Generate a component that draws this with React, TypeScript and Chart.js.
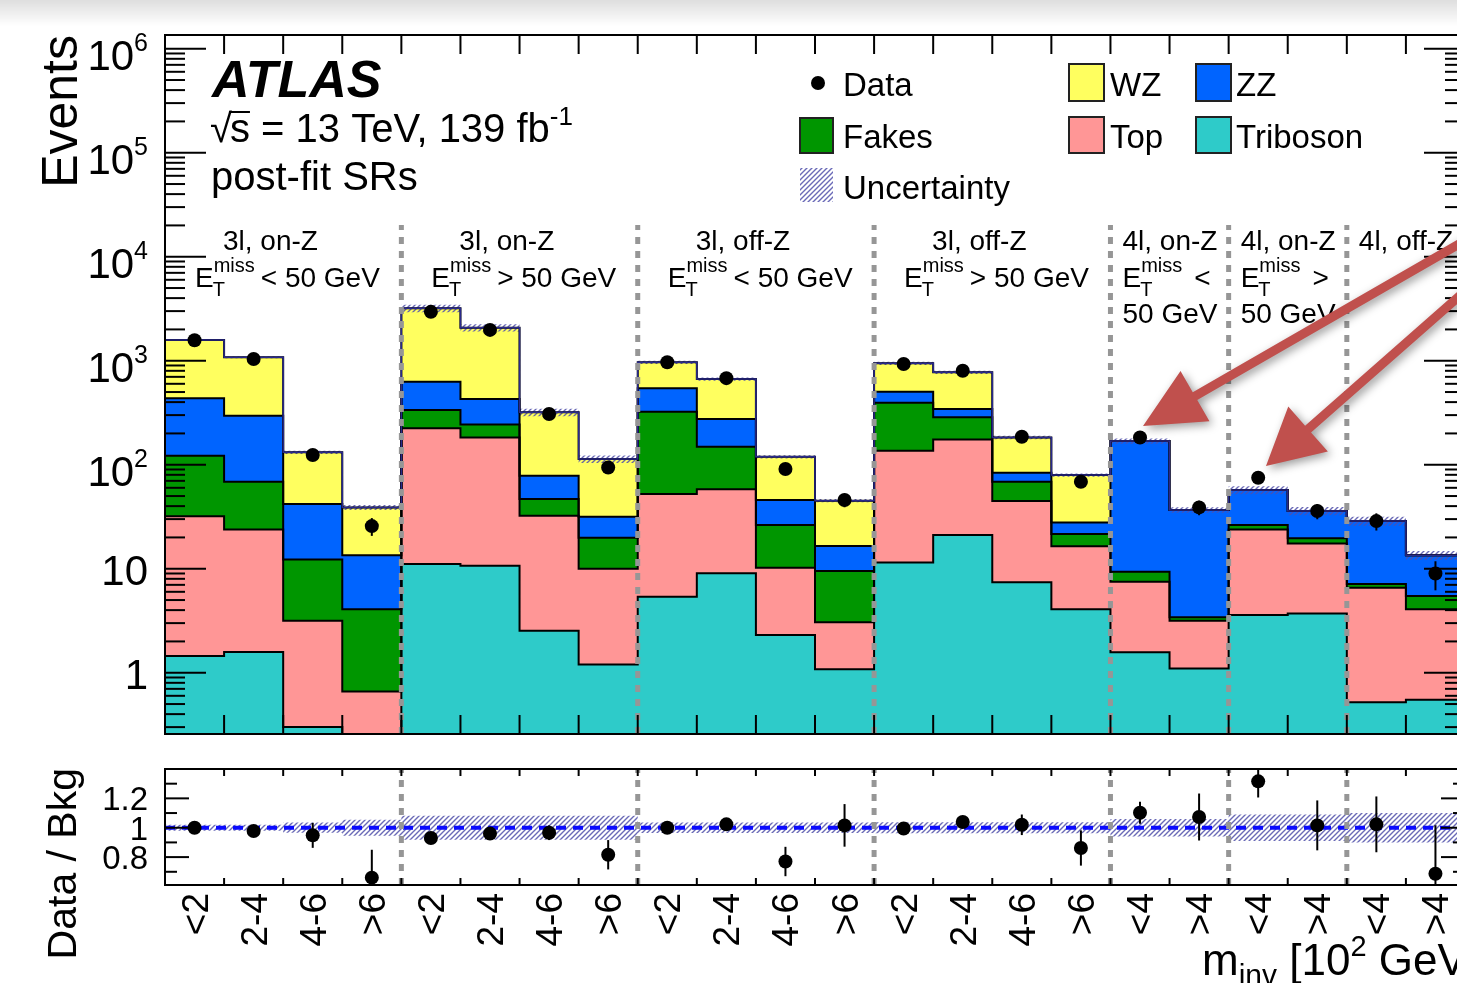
import React, { useEffect, useRef } from 'react';
import { Chart, registerables } from 'chart.js';

Chart.register(...registerables);

// ---------------- data ----------------
const binLabels = ['<2', '2-4', '4-6', '>6', '<2', '2-4', '4-6', '>6', '<2', '2-4', '4-6', '>6', '<2', '2-4', '4-6', '>6', '<4', '>4', '<4', '>4', '<4', '>4'];

const triboson = [1.45, 1.58, 0.30, 0.2, 11.1, 10.7, 2.53, 1.2, 5.38, 9.03, 2.3, 1.08, 11.5, 21.1, 7.4, 4.07, 1.57, 1.1, 3.59, 3.72, 0.52, 0.55];
const topq = [30.5, 22.3, 2.86, 0.46, 213, 172, 29.8, 8.8, 46.9, 49, 7.9, 1.97, 124.5, 153.9, 37.4, 12.4, 5.93, 2.06, 20.3, 13.8, 6.04, 3.52];
const fakes = [90, 44.8, 9.1, 3.41, 112, 61, 14.5, 9.9, 270.7, 91, 16.1, 6.45, 258, 111, 23.9, 5.1, 1.85, 0.25, 2.4, 2.1, 0.57, 1.4];
const zz = [313, 227, 29.6, 9.4, 292, 184, 31.6, 11.7, 220, 126, 19.5, 7.0, 110, 57, 15, 6.3, 159.6, 33.3, 30.8, 16.3, 21.6, 8.0];
const wz = [1145, 782, 89.7, 25.4, 2562, 1648, 240.6, 81.9, 423, 392, 73.6, 28.6, 440, 430, 99.3, 51.7, 0, 0, 0, 0, 0, 0];

const dataCounts = [1575, 1040, 124, 25.7, 2950, 1980, 307, 94, 966, 680, 91, 45.8, 930, 801, 186, 68.7, 183, 38.9, 75, 35.9, 28.7, 9.0];
const dataErr = [40, 32, 11, 5, 54, 44, 17.5, 9.7, 31, 26, 9.5, 6.8, 30, 28, 13.6, 8.3, 13.5, 6.2, 8.7, 6, 5.4, 2.8];

const ratioVals = [1.0, 0.977, 0.948, 0.66, 0.93, 0.96, 0.966, 0.816, 1.0, 1.023, 0.77, 1.016, 0.995, 1.039, 1.02, 0.862, 1.102, 1.073, 1.316, 1.016, 1.023, 0.687];
const ratioErr = [0.025, 0.03, 0.085, 0.19, 0.02, 0.025, 0.05, 0.1, 0.035, 0.04, 0.1, 0.145, 0.035, 0.035, 0.07, 0.12, 0.075, 0.16, 0.11, 0.17, 0.19, 0.33];
const bkgUnc = [0.02, 0.02, 0.035, 0.055, 0.082, 0.082, 0.082, 0.082, 0.036, 0.036, 0.036, 0.036, 0.037, 0.037, 0.037, 0.037, 0.06, 0.06, 0.09, 0.09, 0.1, 0.1];

const sectionEdges = [4, 8, 12, 16, 18, 20];
const regionStarts = [0, 4, 8, 12, 16, 18, 20];
const regionLine1 = ['3l, on-Z', '3l, on-Z', '3l, off-Z', '3l, off-Z', '4l, on-Z', '4l, on-Z', '4l, off-Z'];
const regionCut = ['< 50 GeV', '> 50 GeV', '< 50 GeV', '> 50 GeV', '<', '>', ''];
const regionLine3 = ['', '', '', '', '50 GeV', '50 GeV', ''];

const yTickExps = [0, 1, 2, 3, 4, 5, 6];
const ratioTickVals = [0.8, 1.0, 1.2];
const ratioTickLabels = ['0.8', '1', '1.2'];

// ---------------- style ----------------
const C_WZ = '#ffff5f';
const C_ZZ = '#0064ff';
const C_FAKE = '#009600';
const C_TOP = '#ff9696';
const C_TRI = '#2ecbc9';
const C_ARROW = '#c0504d';

const FF = '"Liberation Sans", Arial, Helvetica, sans-serif';
const fnt = (size: number, style = '') => `${style} ${size}px ${FF}`.trim();

const NB = binLabels.length;
const W = 1480;
const MAIN_H = 745;
const RATIO_TOP = 745;
const RATIO_H = 238;
const Y_MIN = 0.2576;
const Y_MAX = 1.355e6;
const R_MIN = 0.61;
const R_MAX = 1.4;
const STEP = 'before';

const stepPts = (vals: number[]) => [
  ...vals.map((v, i) => ({ x: i, y: v })),
  { x: vals.length, y: vals[vals.length - 1] },
];

function makeHatch(ctx: CanvasRenderingContext2D, alpha: number) {
  const c = document.createElement('canvas');
  c.width = 5;
  c.height = 5;
  const g = c.getContext('2d')!;
  g.strokeStyle = `rgba(80,80,170,${alpha})`;
  g.lineWidth = 1.4;
  g.beginPath();
  g.moveTo(0, 5); g.lineTo(5, 0);
  g.moveTo(-1, 1); g.lineTo(1, -1);
  g.moveTo(4, 6); g.lineTo(6, 4);
  g.stroke();
  return ctx.createPattern(c, 'repeat')!;
}

type Seg = { t: string; size: number; dy?: number; style?: string };
function segsWidth(ctx: CanvasRenderingContext2D, segs: Seg[]) {
  let w = 0;
  for (const s of segs) { ctx.font = fnt(s.size, s.style); w += ctx.measureText(s.t).width; }
  return w;
}
function drawSegs(ctx: CanvasRenderingContext2D, segs: Seg[], x: number, y: number) {
  let cx = x;
  for (const s of segs) {
    ctx.font = fnt(s.size, s.style);
    ctx.fillText(s.t, cx, y + (s.dy || 0));
    cx += ctx.measureText(s.t).width;
  }
  return cx;
}

function drawEt(ctx: CanvasRenderingContext2D, x: number, y: number, rest: string, gap: number) {
  ctx.font = fnt(28);
  ctx.fillText('E', x, y);
  const wE = ctx.measureText('E').width;
  ctx.font = fnt(20);
  ctx.fillText('T', x + wE - 1, y + 9);
  ctx.fillText('miss', x + wE, y - 15);
  const wm = ctx.measureText('miss').width;
  ctx.font = fnt(28);
  if (rest) ctx.fillText(rest, x + wE + wm + gap, y);
}

function drawArrow(ctx: CanvasRenderingContext2D, sx: number, sy: number, tx: number, ty: number, headLen: number, headHalf: number, shaft: number) {
  const dx = tx - sx, dy = ty - sy;
  const L = Math.hypot(dx, dy);
  const ux = dx / L, uy = dy / L;
  const px = -uy, py = ux;
  const bx = tx - ux * headLen, by = ty - uy * headLen;
  ctx.beginPath();
  ctx.moveTo(sx + px * shaft / 2, sy + py * shaft / 2);
  ctx.lineTo(bx + px * shaft / 2, by + py * shaft / 2);
  ctx.lineTo(bx + px * headHalf, by + py * headHalf);
  ctx.lineTo(tx, ty);
  ctx.lineTo(bx - px * headHalf, by - py * headHalf);
  ctx.lineTo(bx - px * shaft / 2, by - py * shaft / 2);
  ctx.lineTo(sx - px * shaft / 2, sy - py * shaft / 2);
  ctx.closePath();
  ctx.fill();
}

function line(ctx: CanvasRenderingContext2D, x1: number, y1: number, x2: number, y2: number) {
  ctx.beginPath();
  ctx.moveTo(x1, y1);
  ctx.lineTo(x2, y2);
  ctx.stroke();
}

export default function App() {
  const mainRef = useRef<HTMLCanvasElement>(null);
  const ratioRef = useRef<HTMLCanvasElement>(null);

  useEffect(() => {
    const mc = mainRef.current!;
    const rc = ratioRef.current!;
    const hatchMain = makeHatch(mc.getContext('2d')!, 0.85);
    const hatchRatio = makeHatch(rc.getContext('2d')!, 0.85);

    // cumulative stack
    const layers = [triboson, topq, fakes, zz, wz];
    const cum: number[][] = [];
    let run = triboson.map(() => 0);
    for (const l of layers) {
      run = run.map((r, i) => r + l[i]);
      cum.push(run);
    }
    const total = cum[cum.length - 1];
    const uncLow = total.map((t, i) => t * (1 - bkgUnc[i]));
    const uncHigh = total.map((t, i) => t * (1 + bkgUnc[i]));
    const colors = [C_TRI, C_TOP, C_FAKE, C_ZZ, C_WZ];
    const names = ['Triboson', 'Top', 'Fakes', 'ZZ', 'WZ'];

    const stackSets: any[] = cum.map((c, k) => ({
      label: names[k],
      data: stepPts(c),
      stepped: STEP,
      fill: k === 0 ? 'start' : '-1',
      backgroundColor: colors[k],
      borderColor: '#000',
      borderWidth: 2,
      pointRadius: 0,
      order: 10 - k,
    }));
    const DATA_IDX = stackSets.length + 3;

    const mainPlugin = {
      id: 'mainDeco',
      beforeDraw(chart: any) {
        const ctx: CanvasRenderingContext2D = chart.ctx;
        const g = ctx.createLinearGradient(0, 0, 0, 26);
        g.addColorStop(0, 'rgba(0,0,0,0.13)');
        g.addColorStop(1, 'rgba(0,0,0,0)');
        ctx.save();
        ctx.fillStyle = g;
        ctx.fillRect(0, 0, chart.width, 26);
        ctx.restore();
      },
      beforeDatasetDraw(chart: any, args: any) {
        if (args.index !== DATA_IDX) return;
        const ctx: CanvasRenderingContext2D = chart.ctx;
        const xs = chart.scales.x, ys = chart.scales.y;
        const a = chart.chartArea;
        ctx.save();
        ctx.beginPath();
        ctx.rect(a.left, a.top, a.right - a.left, a.bottom - a.top);
        ctx.clip();
        ctx.strokeStyle = '#969696';
        ctx.lineWidth = 5;
        ctx.setLineDash([7, 7]);
        for (const e of sectionEdges) {
          const x = xs.getPixelForValue(e);
          line(ctx, x, a.bottom, x, 225);
        }
        ctx.setLineDash([]);
        ctx.strokeStyle = '#000';
        ctx.lineWidth = 2;
        dataCounts.forEach((v, i) => {
          const x = xs.getPixelForValue(i + 0.5);
          line(ctx, x, ys.getPixelForValue(v + dataErr[i]), x, ys.getPixelForValue(Math.max(v - dataErr[i], Y_MIN * 0.5)));
        });
        ctx.restore();
      },
      afterDraw(chart: any) {
        const ctx: CanvasRenderingContext2D = chart.ctx;
        const xs = chart.scales.x, ys = chart.scales.y;
        const a = chart.chartArea;
        ctx.save();
        ctx.strokeStyle = '#000';
        ctx.fillStyle = '#000';
        ctx.lineWidth = 2;
        ctx.strokeRect(a.left, a.top, a.right - a.left, a.bottom - a.top);
        // y ticks (log)
        for (let e = -1; e <= 6; e++) {
          for (let m = 1; m <= 9; m++) {
            const v = m * Math.pow(10, e);
            if (v < Y_MIN || v > Y_MAX) continue;
            const y = ys.getPixelForValue(v);
            const len = m === 1 ? 41 : 20;
            line(ctx, a.left, y, a.left + len, y);
            line(ctx, a.right, y, a.right - len, y);
          }
        }
        // x ticks
        for (let k = 1; k < NB; k++) {
          const x = xs.getPixelForValue(k);
          line(ctx, x, a.top, x, a.top + 19);
          line(ctx, x, a.bottom, x, a.bottom - 19);
        }
        // y tick labels
        ctx.textBaseline = 'alphabetic';
        ctx.textAlign = 'left';
        for (const e of yTickExps) {
          const y = ys.getPixelForValue(Math.pow(10, e));
          if (e <= 1) {
            const t = e === 0 ? '1' : '10';
            ctx.font = fnt(42);
            ctx.textAlign = 'right';
            ctx.fillText(t, 148, y + 16);
            ctx.textAlign = 'left';
          } else {
            const segs: Seg[] = [{ t: '10', size: 42 }, { t: String(e), size: 25, dy: -19 }];
            const w = segsWidth(ctx, segs);
            drawSegs(ctx, segs, 148 - w, y + 21);
          }
        }
        // y title
        ctx.save();
        ctx.translate(77, 35);
        ctx.rotate(-Math.PI / 2);
        ctx.textAlign = 'right';
        ctx.font = fnt(50);
        ctx.fillText('Events', 0, 0);
        ctx.restore();

        // ATLAS labels
        ctx.textAlign = 'left';
        ctx.font = fnt(52, 'italic bold');
        ctx.fillText('ATLAS', 212, 97);
        ctx.font = fnt(40);
        ctx.fillText('\u221A', 210, 142);
        const wr = ctx.measureText('\u221A').width;
        ctx.fillText('s', 210 + wr - 2, 142);
        const ws = ctx.measureText('s').width;
        ctx.lineWidth = 2;
        line(ctx, 210 + wr - 3, 112, 210 + wr - 2 + ws, 112);
        drawSegs(ctx, [{ t: ' = 13 TeV, 139 fb', size: 40 }, { t: '-1', size: 26, dy: -17 }], 210 + wr - 2 + ws, 142);
        ctx.font = fnt(40);
        ctx.fillText('post-fit SRs', 211, 190);

        // region labels
        regionStarts.forEach((s, i) => {
          const x0 = xs.getPixelForValue(s);
          const is4l = s >= 16;
          ctx.font = fnt(28);
          ctx.fillText(regionLine1[i], x0 + (is4l ? 12 : 58), 250);
          if (regionCut[i]) drawEt(ctx, x0 + (is4l ? 12 : 30), 287, regionCut[i], is4l ? 12 : 6);
          if (regionLine3[i]) { ctx.font = fnt(28); ctx.fillText(regionLine3[i], x0 + 12, 323); }
        });

        // legend
        const box = (x: number, y: number, w: number, h: number, fill: string) => {
          ctx.fillStyle = fill;
          ctx.fillRect(x, y, w, h);
          ctx.strokeStyle = '#222';
          ctx.lineWidth = 2;
          ctx.strokeRect(x, y, w, h);
        };
        ctx.fillStyle = '#000';
        ctx.beginPath();
        ctx.arc(818, 83, 7, 0, Math.PI * 2);
        ctx.fill();
        box(800, 118, 33, 35, C_FAKE);
        ctx.fillStyle = hatchMain;
        ctx.fillRect(800, 168, 33, 34);
        box(1069, 64, 35, 37, C_WZ);
        box(1069, 117, 35, 36, C_TOP);
        box(1196, 64, 35, 37, C_ZZ);
        box(1196, 117, 35, 36, C_TRI);
        ctx.fillStyle = '#000';
        ctx.font = fnt(33);
        ctx.fillText('Data', 843, 96);
        ctx.fillText('Fakes', 843, 148);
        ctx.fillText('Uncertainty', 843, 199);
        ctx.fillText('WZ', 1110, 96);
        ctx.fillText('Top', 1110, 148);
        ctx.fillText('ZZ', 1236, 96);
        ctx.fillText('Triboson', 1236, 148);

        // arrows
        ctx.fillStyle = C_ARROW;
        ctx.shadowColor = 'rgba(0,0,0,0.4)';
        ctx.shadowBlur = 10;
        ctx.shadowOffsetX = 3;
        ctx.shadowOffsetY = 3;
        drawArrow(ctx, 1480, 232, 1143, 426, 60, 29, 9);
        drawArrow(ctx, 1480, 278, 1266, 466, 56, 30, 9);
        ctx.restore();
      },
    };

    const main = new Chart(mc, {
      type: 'line',
      data: {
        datasets: [
          ...stackSets,
          { label: 'uncLow', data: stepPts(uncLow), stepped: STEP, fill: false, borderColor: 'rgba(0,0,0,0)', borderWidth: 1, pointRadius: 0, order: 5 },
          { label: 'uncHigh', data: stepPts(uncHigh), stepped: STEP, fill: '-1', backgroundColor: hatchMain, borderColor: 'rgba(0,0,0,0)', borderWidth: 1, pointRadius: 0, order: 4 },
          { label: 'total', data: stepPts(total), stepped: STEP, fill: false, borderColor: '#2a2a8c', borderWidth: 1.5, pointRadius: 0, order: 3 },
          { type: 'scatter', label: 'Data', data: dataCounts.map((v, i) => ({ x: i + 0.5, y: v })), pointRadius: 7, pointBackgroundColor: '#000', pointBorderWidth: 0, backgroundColor: '#000', borderColor: '#000', order: 0 },
        ] as any,
      },
      options: {
        responsive: false,
        animation: false,
        devicePixelRatio: 1,
        events: [],
        layout: { padding: { left: 165, top: 35, right: 15, bottom: 11 } },
        scales: {
          x: { type: 'linear', min: 0, max: NB, display: false },
          y: { type: 'logarithmic', min: Y_MIN, max: Y_MAX, display: false, bounds: 'data' },
        },
        plugins: {
          legend: { display: false },
          tooltip: { enabled: false },
          filler: { drawTime: 'beforeDatasetsDraw' },
        } as any,
      },
      plugins: [mainPlugin],
    });

    const R_DATA_IDX = 3;
    const ratioPlugin = {
      id: 'ratioDeco',
      beforeDatasetDraw(chart: any, args: any) {
        if (args.index !== R_DATA_IDX) return;
        const ctx: CanvasRenderingContext2D = chart.ctx;
        const xs = chart.scales.x, ys = chart.scales.y;
        const a = chart.chartArea;
        ctx.save();
        ctx.beginPath();
        ctx.rect(a.left, a.top, a.right - a.left, a.bottom - a.top);
        ctx.clip();
        ctx.strokeStyle = '#969696';
        ctx.lineWidth = 5;
        ctx.setLineDash([7, 7]);
        for (const e of sectionEdges) {
          const x = xs.getPixelForValue(e);
          line(ctx, x, a.bottom, x, a.top);
        }
        ctx.setLineDash([]);
        ctx.strokeStyle = '#000';
        ctx.lineWidth = 2;
        ratioVals.forEach((v, i) => {
          const x = xs.getPixelForValue(i + 0.5);
          line(ctx, x, ys.getPixelForValue(v + ratioErr[i]), x, ys.getPixelForValue(v - ratioErr[i]));
        });
        ctx.restore();
      },
      afterDraw(chart: any) {
        const ctx: CanvasRenderingContext2D = chart.ctx;
        const xs = chart.scales.x, ys = chart.scales.y;
        const a = chart.chartArea;
        ctx.save();
        ctx.strokeStyle = '#000';
        ctx.fillStyle = '#000';
        ctx.lineWidth = 2;
        ctx.strokeRect(a.left, a.top, a.right - a.left, a.bottom - a.top);
        for (let k = 1; k < NB; k++) {
          const x = xs.getPixelForValue(k);
          line(ctx, x, a.top, x, a.top + 7);
          line(ctx, x, a.bottom, x, a.bottom - 7);
        }
        for (let t = 7; t <= 13; t++) {
          const v = t / 10;
          const y = ys.getPixelForValue(v);
          const len = t % 2 === 0 ? 24 : 12;
          line(ctx, a.left, y, a.left + len, y);
          line(ctx, a.right, y, a.right - len, y);
        }
        ctx.font = fnt(33);
        ctx.textAlign = 'right';
        ratioTickVals.forEach((v, i) => {
          ctx.fillText(ratioTickLabels[i], 148, ys.getPixelForValue(v) + 12);
        });
        // y title
        ctx.save();
        ctx.translate(76, 23);
        ctx.rotate(-Math.PI / 2);
        ctx.textAlign = 'right';
        ctx.font = fnt(41);
        ctx.fillText('Data / Bkg', 0, 0);
        ctx.restore();
        // x labels rotated
        ctx.font = fnt(37);
        binLabels.forEach((lab, i) => {
          const x = xs.getPixelForValue(i + 0.5);
          ctx.save();
          ctx.translate(x + 13, 148);
          ctx.rotate(-Math.PI / 2);
          ctx.textAlign = 'right';
          ctx.fillText(lab, 0, 0);
          ctx.restore();
        });
        // x title
        ctx.textAlign = 'left';
        drawSegs(ctx, [
          { t: 'm', size: 44 },
          { t: 'inv', size: 30, dy: 10 },
          { t: ' [10', size: 44 },
          { t: '2', size: 29, dy: -19 },
          { t: ' GeV]', size: 44 },
        ], 1202, 230);
        ctx.restore();
      },
    };

    const ratioChart = new Chart(rc, {
      type: 'line',
      data: {
        datasets: [
          { label: 'bandLow', data: stepPts(bkgUnc.map((u) => 1 - u)), stepped: STEP, fill: false, borderColor: 'rgba(0,0,0,0)', borderWidth: 1, pointRadius: 0, order: 3 },
          { label: 'bandHigh', data: stepPts(bkgUnc.map((u) => 1 + u)), stepped: STEP, fill: '-1', backgroundColor: hatchRatio, borderColor: 'rgba(0,0,0,0)', borderWidth: 1, pointRadius: 0, order: 2 },
          { label: 'unity', data: [{ x: 0, y: 1 }, { x: NB, y: 1 }], fill: false, borderColor: '#0a0aff', borderWidth: 4, borderDash: [10, 7], pointRadius: 0, order: 1 },
          { type: 'scatter', label: 'Ratio', data: ratioVals.map((v, i) => ({ x: i + 0.5, y: v })), pointRadius: 7, pointBackgroundColor: '#000', pointBorderWidth: 0, backgroundColor: '#000', borderColor: '#000', order: 0 },
        ] as any,
      },
      options: {
        responsive: false,
        animation: false,
        devicePixelRatio: 1,
        events: [],
        layout: { padding: { left: 165, top: 24, right: 15, bottom: 98 } },
        scales: {
          x: { type: 'linear', min: 0, max: NB, display: false },
          y: { type: 'linear', min: R_MIN, max: R_MAX, display: false, bounds: 'data' },
        },
        plugins: {
          legend: { display: false },
          tooltip: { enabled: false },
          filler: { drawTime: 'beforeDatasetsDraw' },
        } as any,
      },
      plugins: [ratioPlugin],
    });

    return () => {
      main.destroy();
      ratioChart.destroy();
    };
  }, []);

  return (
    <div style={{ position: 'absolute', left: 0, top: 0, width: 1457, height: 983, overflow: 'hidden', background: '#fff' }}>
      <canvas ref={mainRef} width={W} height={MAIN_H} style={{ position: 'absolute', left: 0, top: 0, width: W, height: MAIN_H }} />
      <canvas ref={ratioRef} width={W} height={RATIO_H} style={{ position: 'absolute', left: 0, top: RATIO_TOP, width: W, height: RATIO_H }} />
    </div>
  );
}
